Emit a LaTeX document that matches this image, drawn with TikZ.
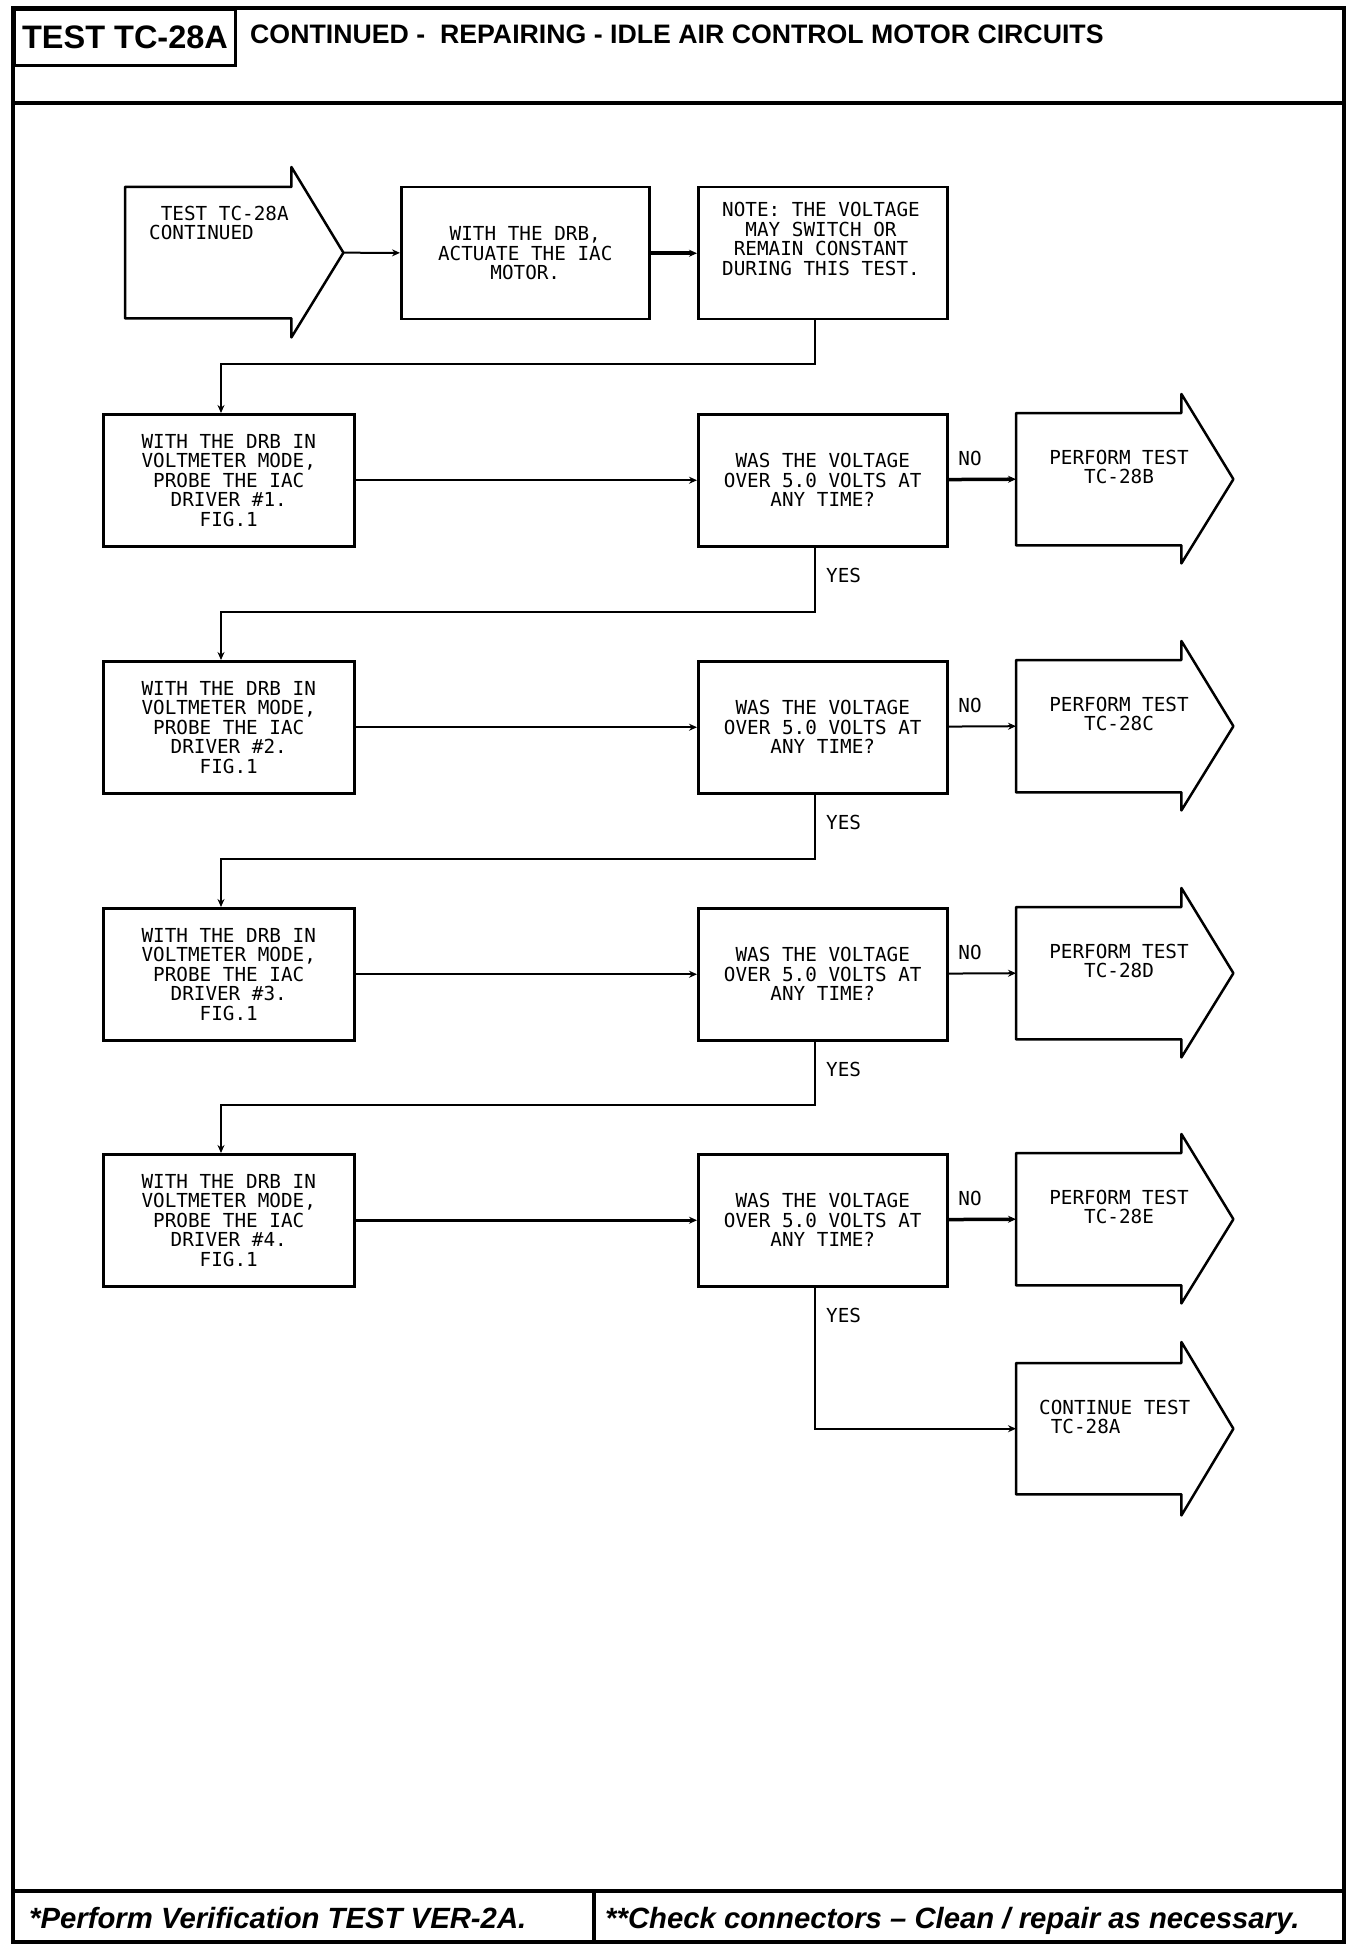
\documentclass[tikz,border=0pt]{standalone}
\usepackage{fontspec}
\usetikzlibrary{arrows.meta,calc}
\newfontfamily\plotfont{DejaVu Sans Mono}
\newfontfamily\hfont{Liberation Sans}
\newcommand\barrowshape[4]{%
  \draw[line width=2.5pt, line join=round] ([yshift=#2]#1.north east) -- (#1.north east) -- (#1.north west) -- (#1.south west) -- (#1.south east) -- ([yshift=-#3]#1.south east) -- ([xshift=#4]#1.east) -- cycle;}
\begin{document}
\begin{tikzpicture}[x=1pt,y=-1pt,
  plot/.style={font=\plotfont\fontsize{19.3}{19.5}\selectfont, align=center, inner sep=0pt},
  boxn/.style={draw, line width=2.5pt, inner sep=0pt, anchor=north west},
  body/.style={inner sep=0pt, anchor=north west},
  conn/.style={line width=2pt, -{Stealth[length=8pt,width=7pt]}},
  frame/.style={line width=4pt}]
\useasboundingbox (0,0) rectangle (1360,1950);
% frame
\draw[frame] (13,8) rectangle (1344,1942);
\draw[frame] (13,103) -- (1344,103);
\draw[frame] (13,1891) -- (1344,1891);
\draw[frame] (594,1891) -- (594,1942);
\node[draw, line width=3pt, minimum width=221pt, minimum height=56pt, anchor=north west, inner sep=0pt,
      font=\hfont\bfseries\fontsize{32.5}{34}\selectfont] (tc) at (13,8) {TEST TC-28A};
\node[anchor=west, inner sep=0pt, font=\hfont\bfseries\fontsize{26.7}{28}\selectfont] (title) at (250,34)
  {CONTINUED -\ \ REPAIRING - IDLE AIR CONTROL MOTOR CIRCUITS};
\node[anchor=base west, inner sep=0pt, font=\hfont\bfseries\itshape\fontsize{29.3}{30}\selectfont] (f1) at (29,1928)
  {*Perform Verification TEST VER-2A.};
\node[anchor=base west, inner sep=0pt, font=\hfont\bfseries\itshape\fontsize{29.3}{30}\selectfont] (f2) at (605,1928)
  {**Check connectors – Clean / repair as necessary.};
% helper columns
\coordinate (cx) at (815,0);
\coordinate (lx) at (221,0);
% top row
\node[body, minimum width=166pt, minimum height=131pt] (st) at (125,187) {};
\barrowshape{st}{20pt}{19pt}{52pt}
\coordinate (sttip) at ([xshift=52pt]st.east);
\node[plot, align=left, anchor=west] (stt) at (149,223) {\hphantom{X}TEST TC-28A\\CONTINUED};
\node[boxn, plot, minimum width=248pt, minimum height=132pt] (b2) at (400,186) {WITH THE DRB,\\ACTUATE THE IAC\\MOTOR.};
\node[boxn, minimum width=249pt, minimum height=132pt] (b3) at (697,186) {};
\node[plot] (b3t) at (821,239) {NOTE: THE VOLTAGE\\MAY SWITCH OR\\REMAIN CONSTANT\\DURING THIS TEST.};
\draw[conn] (sttip) -- (b2);
\draw[conn, line width=3.5pt] (b2) -- (b3);
% rows
\foreach \i/\T/\L/\wa/\wb in {1/413/B/2/3.5,2/660/C/2/2,3/907/D/2/2,4/1153/E/3.5/3.5}{
  \node[boxn, plot, minimum width=251pt, minimum height=132pt] (d\i) at (102,\T)
    {WITH THE DRB IN\\VOLTMETER MODE,\\PROBE THE IAC\\DRIVER \#\i.\\FIG.1};
  \node[boxn, plot, minimum width=249pt, minimum height=132pt] (q\i) at (697,\T)
    {WAS THE VOLTAGE\\OVER 5.0 VOLTS AT\\ANY TIME?};
  \node[body, minimum width=165pt, minimum height=132pt] (p\i) at (1016,\T) {};
  \barrowshape{p\i}{19pt}{18pt}{52pt}
  \node[plot] (pt\i) at (1119,\T+54) {PERFORM TEST\\TC-28\L};
  \draw[conn, line width=\wa pt] (d\i) -- (q\i);
  \draw[conn, line width=\wb pt] (q\i) -- (p\i.west);
  \node[plot] (no\i) at (970,\T+45) {NO};
  \node[plot, anchor=west] (yes\i) at ($(q\i.south -| cx)+(11,28)$) {YES};
}
% continue arrow
\node[body, minimum width=165pt, minimum height=131pt] (c) at (1016,1363) {};
\barrowshape{c}{21pt}{21pt}{52pt}
\node[plot, align=left, anchor=west] (ct) at (1039,1417) {CONTINUE TEST\\\hphantom{X}TC-28A};
% vertical connectors
\draw[conn] (b3.south -| cx) |- ($(d1.north -| lx)+(0,-49)$) -- (d1.north -| lx);
\foreach \i/\j in {1/2,2/3,3/4}{
  \draw[conn] (q\i.south -| cx) |- ($(d\j.north -| lx)+(0,-48)$) -- (d\j.north -| lx);
}
\draw[conn] (q4.south -| cx) |- (c.west);
\end{tikzpicture}
\end{document}
